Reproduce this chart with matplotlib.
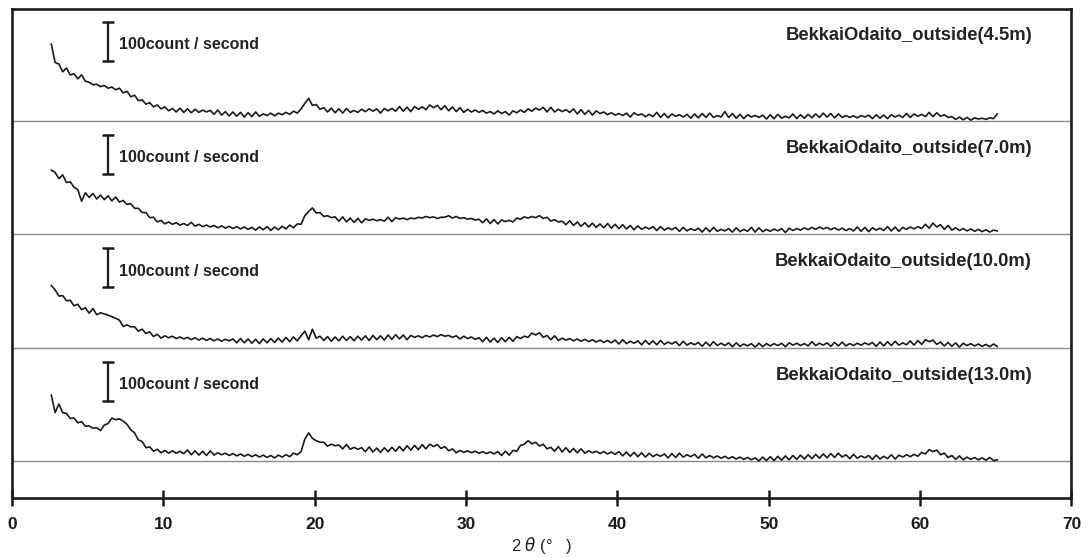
import numpy as np
import matplotlib
matplotlib.use("Agg")
import matplotlib.pyplot as plt

plt.rcParams['font.family'] = ['Liberation Sans', 'DejaVu Sans']

# 2theta sampled every 0.25 deg
two_theta = np.linspace(2.6, 65.1, 251)

# intensities (count / second) for each depth
cps_45 = [
    197, 150, 146, 126, 136, 118, 121, 108, 118, 102,
    99, 93, 94, 88, 91, 84, 87, 80, 84, 72,
    76, 62, 66, 52, 54, 43, 47, 36, 41, 31,
    36, 26, 32, 23, 33, 22, 31, 21, 30, 22,
    28, 23, 27, 17, 28, 15, 24, 13, 23, 12,
    22, 10, 21, 11, 23, 12, 18, 14, 20, 13,
    20, 16, 22, 17, 25, 20, 31, 45, 58, 40,
    42, 30, 34, 23, 33, 21, 31, 20, 32, 22,
    27, 22, 30, 24, 31, 25, 31, 20, 32, 26,
    32, 25, 37, 25, 35, 24, 37, 30, 36, 29,
    41, 34, 40, 29, 39, 26, 36, 24, 34, 22,
    30, 23, 28, 22, 27, 20, 24, 18, 26, 19,
    24, 15, 26, 21, 28, 22, 31, 25, 33, 28,
    35, 23, 35, 23, 30, 24, 29, 22, 31, 18,
    29, 17, 27, 15, 26, 19, 23, 16, 21, 15,
    19, 14, 20, 10, 21, 15, 18, 11, 17, 11,
    22, 9, 19, 8, 18, 12, 16, 10, 17, 7,
    18, 8, 19, 9, 20, 9, 14, 10, 24, 9,
    19, 7, 17, 6, 16, 10, 14, 9, 15, 5,
    16, 6, 17, 7, 12, 8, 18, 6, 16, 7,
    17, 8, 18, 9, 20, 10, 19, 8, 18, 9,
    14, 9, 13, 8, 14, 10, 15, 6, 16, 7,
    15, 6, 16, 10, 15, 9, 19, 9, 18, 12,
    17, 11, 22, 11, 21, 12, 16, 9, 11, 4,
    10, 3, 9, 2, 8, 5, 7, 4, 8, 6,
    18,
]

cps_70 = [
    164, 158, 142, 152, 132, 134, 120, 114, 84, 106,
    94, 104, 90, 100, 88, 98, 85, 95, 82, 86,
    76, 78, 66, 66, 55, 55, 42, 43, 31, 35,
    26, 31, 25, 29, 23, 27, 22, 30, 20, 25,
    19, 23, 18, 22, 16, 21, 15, 20, 14, 19,
    13, 18, 12, 17, 10, 18, 11, 19, 9, 18,
    11, 20, 13, 23, 16, 26, 25, 47, 58, 67,
    54, 55, 45, 47, 42, 44, 33, 44, 31, 41,
    30, 40, 29, 39, 35, 38, 34, 37, 33, 43,
    32, 42, 38, 41, 37, 41, 39, 43, 41, 45,
    42, 44, 40, 43, 43, 47, 41, 45, 40, 42,
    38, 40, 36, 38, 29, 39, 27, 37, 26, 36,
    32, 35, 31, 41, 38, 44, 41, 45, 42, 47,
    40, 43, 33, 37, 31, 33, 24, 34, 22, 31,
    20, 29, 18, 28, 17, 26, 16, 27, 15, 25,
    14, 24, 13, 22, 11, 21, 12, 18, 13, 19,
    9, 19, 10, 16, 11, 17, 7, 17, 8, 14,
    9, 15, 5, 16, 6, 17, 7, 12, 8, 14,
    5, 16, 6, 12, 7, 17, 5, 16, 6, 12,
    7, 13, 8, 14, 4, 15, 9, 14, 10, 16,
    11, 17, 12, 18, 13, 17, 11, 16, 10, 15,
    9, 14, 8, 18, 7, 17, 6, 16, 10, 15,
    9, 19, 8, 18, 7, 17, 12, 18, 13, 19,
    14, 25, 15, 28, 18, 24, 12, 22, 10, 16,
    9, 14, 8, 13, 7, 12, 6, 11, 5, 10,
    8,
]

cps_100 = [
    159, 148, 132, 133, 120, 121, 107, 111, 97, 102,
    88, 100, 84, 89, 86, 83, 79, 75, 70, 54,
    58, 53, 53, 42, 47, 36, 40, 28, 34, 24,
    30, 25, 29, 23, 27, 22, 26, 20, 25, 19,
    24, 18, 23, 17, 22, 16, 21, 17, 22, 12,
    23, 12, 22, 11, 21, 10, 22, 12, 23, 13,
    24, 14, 26, 15, 27, 17, 30, 42, 20, 47,
    24, 29, 18, 28, 16, 27, 17, 29, 18, 28,
    17, 29, 19, 30, 18, 31, 20, 30, 19, 32,
    21, 33, 22, 32, 20, 31, 26, 30, 25, 31,
    27, 32, 28, 33, 29, 31, 26, 30, 22, 29,
    23, 27, 21, 25, 15, 26, 14, 24, 13, 25,
    15, 26, 16, 28, 23, 29, 26, 37, 32, 38,
    26, 31, 20, 30, 18, 24, 19, 23, 17, 22,
    16, 21, 15, 20, 14, 19, 13, 18, 12, 19,
    9, 20, 10, 16, 11, 17, 7, 18, 8, 17,
    7, 18, 8, 14, 9, 15, 5, 16, 6, 12,
    7, 13, 3, 14, 4, 15, 5, 11, 5, 12,
    2, 12, 3, 9, 4, 10, 1, 11, 2, 10,
    4, 10, 5, 11, 2, 12, 6, 11, 5, 10,
    4, 15, 5, 11, 6, 12, 3, 13, 4, 14,
    4, 10, 5, 11, 6, 12, 7, 13, 3, 14,
    4, 15, 5, 16, 6, 12, 7, 17, 6, 18,
    8, 20, 15, 19, 8, 14, 4, 13, 3, 12,
    1, 11, 5, 10, 4, 9, 3, 8, 2, 9,
    3,
]

cps_130 = [
    169, 124, 146, 124, 122, 109, 110, 98, 101, 89,
    90, 84, 85, 78, 92, 96, 110, 106, 108, 102,
    94, 80, 72, 54, 50, 34, 36, 25, 30, 21,
    27, 20, 26, 20, 25, 19, 28, 16, 26, 15,
    25, 14, 26, 15, 21, 16, 20, 14, 19, 13,
    18, 12, 17, 11, 16, 10, 15, 9, 14, 8,
    15, 10, 16, 11, 20, 16, 24, 56, 72, 58,
    52, 48, 48, 38, 43, 39, 41, 31, 42, 30,
    35, 30, 34, 24, 36, 23, 33, 22, 34, 24,
    35, 25, 37, 26, 39, 28, 40, 29, 42, 31,
    43, 37, 42, 32, 37, 26, 31, 21, 27, 22,
    26, 21, 25, 20, 24, 19, 23, 18, 24, 14,
    25, 15, 27, 25, 40, 43, 52, 44, 48, 38,
    43, 31, 35, 25, 37, 23, 34, 22, 32, 21,
    31, 20, 26, 21, 25, 19, 24, 18, 23, 17,
    24, 13, 23, 12, 22, 11, 21, 10, 20, 11,
    17, 12, 18, 8, 19, 9, 20, 10, 16, 11,
    17, 7, 18, 8, 14, 8, 13, 7, 12, 6,
    11, 5, 10, 4, 9, 3, 8, 0, 10, 1,
    11, 1, 12, 2, 13, 3, 14, 4, 15, 5,
    16, 6, 17, 7, 18, 8, 19, 9, 20, 10,
    16, 6, 17, 7, 13, 8, 14, 4, 15, 5,
    12, 6, 16, 5, 15, 10, 16, 11, 17, 12,
    22, 18, 29, 24, 28, 16, 20, 9, 14, 4,
    13, 3, 10, 4, 9, 3, 8, 2, 9, 1,
    3,
]

samples = ['BekkaiOdaito_outside(4.5m)', 'BekkaiOdaito_outside(7.0m)',
           'BekkaiOdaito_outside(10.0m)', 'BekkaiOdaito_outside(13.0m)']
patterns = [cps_45, cps_70, cps_100, cps_130]
offsets = [967, 677, 386, 95]   # vertical stacking of each pattern

fig = plt.figure(figsize=(10.88, 5.58), dpi=100)
ax = fig.add_axes([0.011, 0.1075, 0.9738, 0.8763])

for name, y, off in zip(samples, patterns, offsets):
    ax.axhline(off, color='#8c8c8c', lw=1.0, zorder=1)
    ax.plot(two_theta, np.array(y) + off, color='#1a1a1a', lw=1.2, zorder=3)
    # 100 cps scale bar
    ax.plot([6.33, 6.33], [off + 154, off + 254], color='#1a1a1a', lw=1.6,
            marker='_', markersize=9, mew=1.8, solid_capstyle='butt')
    ax.text(7.05, off + 196, '100count / second', fontsize=11.5,
            fontweight='bold', color='#222222', ha='left', va='center')
    ax.text(67.4, off + 220, name, fontsize=13.2, fontweight='bold',
            color='#222222', ha='right', va='center')

ax.set_xlim(0, 70)
ax.set_ylim(0, 1254)
ax.set_xticks(np.arange(0, 71, 10))
ax.set_yticks([])
ax.tick_params(axis='x', direction='inout', length=11, width=1.8,
               labelsize=12.5, pad=8, colors='#1a1a1a')
for lab in ax.get_xticklabels():
    lab.set_fontweight('bold')
for sp in ax.spines.values():
    sp.set_linewidth(1.9)
    sp.set_color('#1a1a1a')

fig.text(0.4975, 0.022, '2 $\\theta$ (°   )', fontsize=12, color='#222222',
         ha='center', va='center')

fig.savefig('out.png', dpi=100)
